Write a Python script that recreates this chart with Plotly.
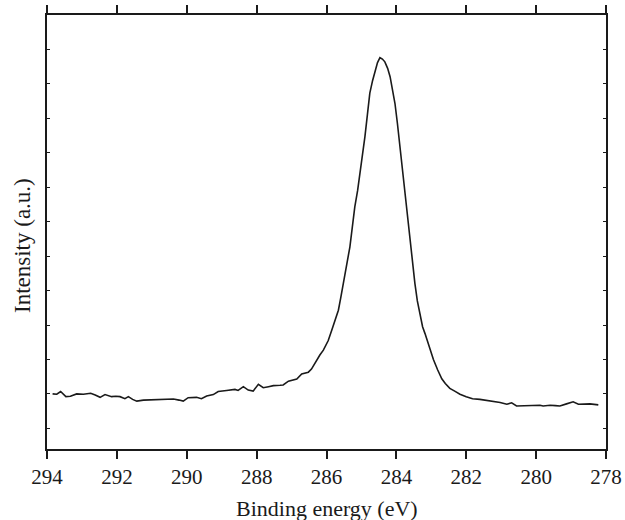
import plotly.graph_objects as go

binding_energy = [
    293.84, 293.72, 293.61, 293.46, 293.33, 293.15, 292.96, 292.75, 292.62, 292.48,
    292.34, 292.15, 292.03, 291.91, 291.77, 291.67, 291.55, 291.43, 291.24, 291.05,
    290.86, 290.62, 290.38, 290.22, 290.10, 289.96, 289.72, 289.58, 289.43, 289.24,
    289.10, 288.86, 288.62, 288.53, 288.38, 288.24, 288.10, 287.95, 287.81, 287.66,
    287.52, 287.33, 287.24, 287.09, 286.95, 286.85, 286.71, 286.52, 286.43, 286.28,
    286.19, 286.09, 285.95, 285.85, 285.75, 285.66, 285.59, 285.52, 285.43, 285.33,
    285.26, 285.19, 285.11, 285.04, 284.97, 284.90, 284.83, 284.76, 284.68, 284.61,
    284.54, 284.47, 284.40, 284.33, 284.25, 284.18, 284.11, 284.04, 283.97, 283.90,
    283.82, 283.75, 283.68, 283.61, 283.54, 283.47, 283.40, 283.32, 283.25, 283.18,
    283.06, 282.94, 282.82, 282.70, 282.60, 282.47, 282.33, 282.18, 282.00, 281.82,
    281.61, 281.42, 281.23, 281.03, 280.84, 280.70, 280.56, 280.35, 280.12, 279.89,
    279.80, 279.60, 279.45, 279.32, 279.13, 278.94, 278.79, 278.62, 278.46, 278.22,
]

intensity = [
    2.00, 1.99, 2.07, 1.92, 1.93, 2.00, 1.99, 2.02, 1.97, 1.90,
    1.98, 1.92, 1.93, 1.92, 1.86, 1.92, 1.84, 1.79, 1.82, 1.83,
    1.84, 1.84, 1.85, 1.82, 1.79, 1.89, 1.90, 1.86, 1.94, 1.98,
    2.07, 2.10, 2.13, 2.10, 2.21, 2.11, 2.08, 2.28, 2.18, 2.21,
    2.24, 2.25, 2.26, 2.37, 2.40, 2.43, 2.58, 2.63, 2.72, 3.00,
    3.13, 3.27, 3.55, 3.85, 4.15, 4.43, 4.80, 5.21, 5.75, 6.27,
    6.85, 7.43, 7.90, 8.40, 8.95, 9.47, 10.10, 10.73, 11.10, 11.40,
    11.62, 11.76, 11.72, 11.64, 11.45, 11.21, 10.85, 10.43, 9.85, 9.18,
    8.45, 7.72, 7.05, 6.37, 5.78, 5.21, 4.70, 4.24, 3.95, 3.75,
    3.35, 3.00, 2.70, 2.44, 2.30, 2.16, 2.08, 1.99, 1.92, 1.86,
    1.84, 1.81, 1.79, 1.75, 1.70, 1.74, 1.65, 1.66, 1.67, 1.67,
    1.65, 1.67, 1.66, 1.65, 1.71, 1.77, 1.70, 1.71, 1.71, 1.68,
]

x_ticks = [294, 292, 290, 288, 286, 284, 282, 280, 278]
y_ticks = list(range(1, 14))

fig = go.Figure()
fig.add_trace(go.Scatter(
    x=binding_energy, y=intensity, mode="lines",
    line=dict(color="#1a1a1a", width=1.6),
    showlegend=False, hoverinfo="skip",
))

family = "Liberation Serif, Times New Roman, serif"
tick_font = dict(family=family, size=21, color="#1a1a1a")
title_font = dict(family=family, size=22, color="#1a1a1a")

fig.update_layout(
    width=625, height=520,
    margin=dict(l=47, r=19, t=15, b=71),
    paper_bgcolor="white", plot_bgcolor="white",
    font=tick_font,
)
fig.update_xaxes(
    range=[294, 278], tickvals=x_ticks, ticktext=[str(v) for v in x_ticks],
    showline=True, linecolor="#1a1a1a", linewidth=1.5, mirror="ticks",
    ticks="outside", ticklen=8, tickwidth=1.5, tickcolor="#1a1a1a",
    showgrid=False, zeroline=False, automargin=False,
    tickfont=tick_font,
)
fig.update_yaxes(
    range=[0.4, 13.0], tickvals=y_ticks, showticklabels=False,
    showline=True, linecolor="#1a1a1a", linewidth=1.5, mirror="ticks",
    ticks="inside", ticklen=3, tickwidth=1, tickcolor="#1a1a1a",
    showgrid=False, zeroline=False, automargin=False,
)
fig.add_annotation(
    text="Binding energy (eV)", xref="paper", yref="paper",
    x=0.5, y=0, yshift=-59, xanchor="center", yanchor="middle",
    showarrow=False, font=title_font,
)
fig.add_annotation(
    text="Intensity (a.u.)", xref="paper", yref="paper",
    x=0, y=0.5, xshift=-25, yshift=-14, xanchor="center", yanchor="middle",
    textangle=-90, showarrow=False, font=dict(family=family, size=23, color="#1a1a1a"),
)

# remove the page's default body margin so the 625x520 figure fills the window exactly
fig.write_html(
    "out.html",
    config={"displayModeBar": False},
    post_script="document.body.style.margin='0px';document.body.style.overflow='hidden';",
)
